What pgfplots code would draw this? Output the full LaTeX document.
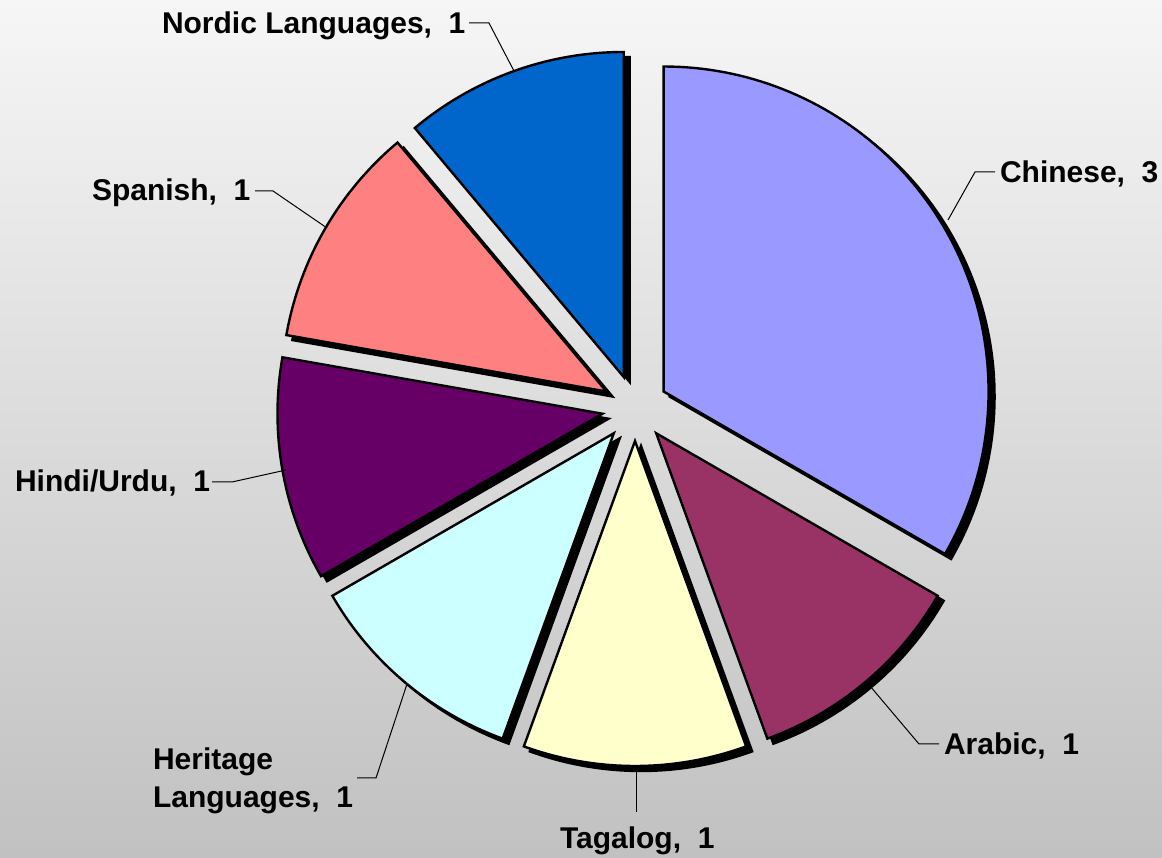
\documentclass[border=0pt]{standalone}
\usepackage{fontspec}
\setmainfont{Liberation Sans}
\usepackage{pgfplots}
\usepackage{pgfplotstable}
\pgfplotsset{compat=1.18}

\definecolor{bgtop}{RGB}{246,246,246}
\definecolor{bgbot}{RGB}{193,193,193}
\definecolor{cChinese}{RGB}{153,153,255}
\definecolor{cArabic}{RGB}{153,51,102}
\definecolor{cTagalog}{RGB}{255,255,204}
\definecolor{cHeritage}{RGB}{204,255,255}
\definecolor{cHindi}{RGB}{102,0,102}
\definecolor{cSpanish}{RGB}{255,128,128}
\definecolor{cNordic}{RGB}{0,102,204}

\pgfplotstableread{
lang value
Chinese 3
Arabic 1
Tagalog 1
Heritage 1
Hindi 1
Spanish 1
Nordic 1
}\pietable

% pie geometry in image pixels (y upwards negative)
\def\pcx{635}\def\pcy{-408}\def\prad{325}\def\pexp{33}\def\ptotal{9}
\def\cum{90}
\newcommand\mkslice[2]{%
  \pgfplotstablegetelem{#1}{value}\of\pietable
  \pgfmathsetmacro\sa{\cum}%
  \pgfmathsetmacro\sb{\cum-360*\pgfplotsretval/\ptotal}%
  \pgfmathsetmacro\sm{(\sa+\sb)/2}%
  \pgfmathsetmacro\sox{\pcx+\pexp*cos(\sm)}%
  \pgfmathsetmacro\soy{\pcy+\pexp*sin(\sm)}%
  \expandafter\xdef\csname A#2\endcsname{\sa}%
  \expandafter\xdef\csname B#2\endcsname{\sb}%
  \expandafter\xdef\csname X#2\endcsname{\sox}%
  \expandafter\xdef\csname Y#2\endcsname{\soy}%
  \xdef\cum{\sb}%
}
\mkslice{0}{Chinese}
\mkslice{1}{Arabic}
\mkslice{2}{Tagalog}
\mkslice{3}{Heritage}
\mkslice{4}{Hindi}
\mkslice{5}{Spanish}
\mkslice{6}{Nordic}

\newcommand\shadowslice[1]{%
  \addplot[fill=black, draw=black, line width=1.2pt, domain=\csname B#1\endcsname:\csname A#1\endcsname, samples=90, variable=\t, mark=none]
    ({\csname X#1\endcsname+6+\prad*cos(t)},{\csname Y#1\endcsname-5+\prad*sin(t)})
    -- (axis cs:{\csname X#1\endcsname+6},{\csname Y#1\endcsname-5}) -- cycle;
}
\newcommand\drawslice[1]{%
  \addplot[fill=c#1, draw=black, line width=1.2pt, line join=miter, domain=\csname B#1\endcsname:\csname A#1\endcsname, samples=90, variable=\t, mark=none]
    ({\csname X#1\endcsname+\prad*cos(t)},{\csname Y#1\endcsname+\prad*sin(t)})
    -- (axis cs:\csname X#1\endcsname,\csname Y#1\endcsname) -- cycle;
}
\tikzset{lbl/.style={font=\fontsize{15}{19.5}\selectfont\bfseries, inner sep=0pt, outer sep=0pt, anchor=base west}}

\begin{document}
\begin{tikzpicture}
\begin{axis}[
  scale only axis, width=581pt, height=428.5pt,
  xmin=0, xmax=1162, ymin=-857, ymax=0,
  hide axis, clip=false,
]
\fill[top color=bgtop, bottom color=bgbot] (axis cs:0,0) rectangle (axis cs:1162,-857);

\shadowslice{Chinese}
\shadowslice{Arabic}
\shadowslice{Tagalog}
\shadowslice{Heritage}
\shadowslice{Hindi}
\shadowslice{Spanish}
\shadowslice{Nordic}

\drawslice{Chinese}
\drawslice{Arabic}
\drawslice{Tagalog}
\drawslice{Heritage}
\drawslice{Hindi}
\drawslice{Spanish}
\drawslice{Nordic}

% leader lines
\addplot[black, line width=0.5pt, mark=none] coordinates {(995,-172) (975,-172) (948,-220)};
\addplot[black, line width=0.5pt, mark=none] coordinates {(870,-686) (919,-744) (939,-744)};
\addplot[black, line width=0.5pt, mark=none] coordinates {(636,-769) (636,-812)};
\addplot[black, line width=0.5pt, mark=none] coordinates {(407,-684) (376,-778) (357,-778)};
\addplot[black, line width=0.5pt, mark=none] coordinates {(286,-470) (232,-482) (212,-482)};
\addplot[black, line width=0.5pt, mark=none] coordinates {(327,-228) (273,-191) (255,-191)};
\addplot[black, line width=0.5pt, mark=none] coordinates {(514,-71) (489,-23) (469,-23)};

% labels
\node[lbl] at (axis cs:1000,-183) {Chinese,\ \ 3};
\node[lbl] at (axis cs:944,-754) {Arabic,\ \ 1};
\node[lbl] at (axis cs:560,-848) {Tagalog,\ \ 1};
\node[lbl] at (axis cs:153,-769) {Heritage};
\node[lbl] at (axis cs:153,-808) {Languages,\ \ 1};
\node[lbl] at (axis cs:15,-492) {Hindi/Urdu,\ \ 1};
\node[lbl] at (axis cs:92,-201) {Spanish,\ \ 1};
\node[lbl] at (axis cs:162,-34) {Nordic Languages,\ \ 1};
\end{axis}
\end{tikzpicture}
\end{document}
